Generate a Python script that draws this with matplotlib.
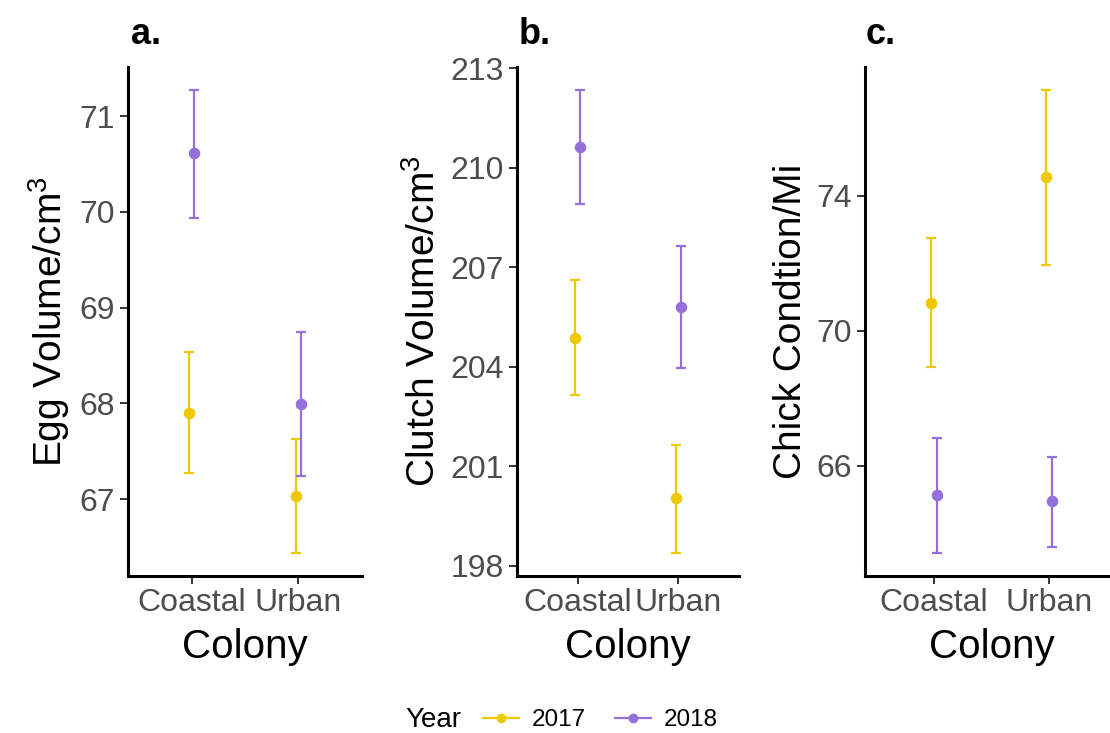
import matplotlib
matplotlib.use("Agg")
import matplotlib.pyplot as plt
from matplotlib.lines import Line2D
import numpy as np

plt.rcParams['font.family'] = ['Liberation Sans', 'DejaVu Sans']
plt.rcParams['mathtext.fontset'] = 'custom'
plt.rcParams['mathtext.rm'] = 'Liberation Sans'
plt.rcParams['mathtext.it'] = 'Liberation Sans'

colonies = ["Coastal", "Urban"]
years = ["2017", "2018"]
colors = {"2017": "#EEC900", "2018": "#9370DB"}

# Panel a: Egg volume
egg_mean = {"2017": [67.90, 67.03], "2018": [70.61, 67.99]}
egg_lo = {"2017": [67.27, 66.44], "2018": [69.94, 67.24]}
egg_hi = {"2017": [68.54, 67.63], "2018": [71.27, 68.75]}

# Panel b: Clutch volume
clutch_mean = {"2017": [204.87, 200.04], "2018": [210.63, 205.81]}
clutch_lo = {"2017": [203.14, 198.39], "2018": [208.92, 203.96]}
clutch_hi = {"2017": [206.62, 201.65], "2018": [212.34, 207.65]}

# Panel c: Chick condition
chick_mean = {"2017": [70.82, 74.55], "2018": [65.12, 64.95]}
chick_lo = {"2017": [68.92, 71.96], "2018": [63.42, 63.60]}
chick_hi = {"2017": [72.74, 77.13], "2018": [66.82, 66.27]}

egg_ticks = [67, 68, 69, 70, 71]
clutch_ticks = [198, 201, 204, 207, 210, 213]
chick_ticks = [66, 70, 74]

W, H = 1110, 733
fig = plt.figure(figsize=(W / 100, H / 100), dpi=100)

def axpos(l, r, t=67, b=576):
    return [l / W, 1 - b / H, (r - l) / W, (b - t) / H]

panels = [
    dict(pos=axpos(128, 362), mean=egg_mean, lo=egg_lo, hi=egg_hi, ticks=egg_ticks,
         ylabel="Egg Volume/cm$^3$", title="a.", tx=131),
    dict(pos=axpos(517, 739), mean=clutch_mean, lo=clutch_lo, hi=clutch_hi, ticks=clutch_ticks,
         ylabel="Clutch Volume/cm$^3$", title="b.", tx=519),
    dict(pos=axpos(865, 1118), mean=chick_mean, lo=chick_lo, hi=chick_hi, ticks=chick_ticks,
         ylabel="Chick Condtion/Mi", title="c.", tx=866),
]

dodge = {"2017": -0.025, "2018": 0.025}
x = np.arange(1, len(colonies) + 1)

for p in panels:
    ax = fig.add_axes(p["pos"])
    allv = []
    for yr in years:
        m = np.array(p["mean"][yr]); lo = np.array(p["lo"][yr]); hi = np.array(p["hi"][yr])
        allv += list(lo) + list(hi)
        ax.errorbar(x + dodge[yr], m, yerr=[m - lo, hi - m], fmt='o', color=colors[yr],
                    ecolor=colors[yr], elinewidth=1.6, capsize=3.6, capthick=1.6,
                    markersize=7.3, zorder=3)
    vmin, vmax = min(allv), max(allv)
    pad = 0.05 * (vmax - vmin)
    ax.set_ylim(vmin - pad, vmax + pad)
    ax.set_xlim(0.4, 2.6)
    ax.set_xticks(x)
    ax.set_xticklabels(colonies)
    ax.set_yticks(p["ticks"])
    for s in ["top", "right"]:
        ax.spines[s].set_visible(False)
    for s in ["left", "bottom"]:
        ax.spines[s].set_linewidth(2.2)
        ax.spines[s].set_color("black")
    ax.tick_params(axis="both", length=5.5, width=1.4, color="#333333",
                   labelsize=23, labelcolor="#4D4D4D")
    ax.tick_params(axis="y", pad=4)
    ax.tick_params(axis="x", pad=3)
    ax.set_ylabel(p["ylabel"], fontsize=28, color="black", labelpad=5)
    ax.set_xlabel("Colony", fontsize=29, color="black", labelpad=7)
    fig.text(p["tx"] / W, 1 - 44 / H, p["title"], fontsize=26, fontweight="bold",
             ha="left", va="baseline")

# legend
fig.text(405 / W, 1 - 720 / H, "Year", fontsize=20, ha="left", va="center")
handles = [Line2D([0], [0], color=colors[yr], marker='o', markersize=6, linewidth=1.6)
           for yr in years]
fig.legend(handles, years, loc="center left", bbox_to_anchor=(483 / W, 1 - 720 / H),
           ncol=2, frameon=False, fontsize=17.5, handlelength=1.5, handletextpad=0.5,
           columnspacing=1.2, borderaxespad=0, borderpad=0)

fig.savefig("out.png", dpi=100)
